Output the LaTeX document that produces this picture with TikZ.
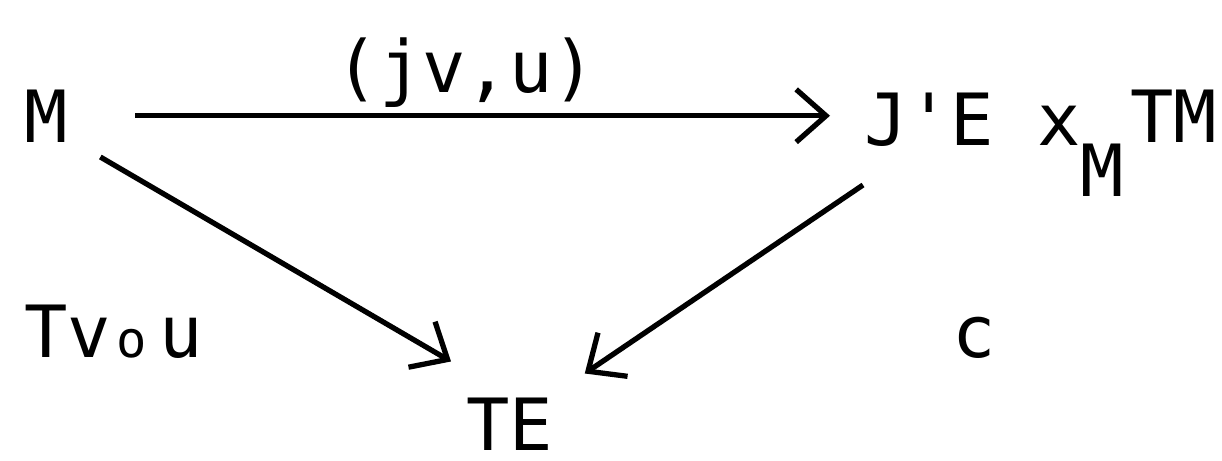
\documentclass[tikz,border=0pt]{standalone}
\usepackage{fontspec}
\newfontfamily\tw{DejaVu Sans Mono}
\usetikzlibrary{arrows.meta,calc}
\tikzset{
  lbl/.style={inner sep=0pt, outer sep=0pt, font=\tw\fontsize{41}{41}\selectfont},
  arr/.style={line width=3pt, -{Straight Barb[length=17pt,width=30pt,line width=3pt]}}
}
\begin{document}
\begin{tikzpicture}[x=0.02cm,y=-0.02cm]
\useasboundingbox[fill=white] (0,0) rectangle (1222,460);
\node[lbl, anchor=base west] (M) at (24,142) {M};
\node[lbl, anchor=base] (lab) at (466,92) {(jv,u)};
\node[lbl, anchor=base west] (JE) at (864,145) {J'E x\raisebox{-1.04cm}{M}\hspace{0.12cm}\raisebox{0.06cm}{TM}};
\node[lbl, anchor=base west] (TE) at (466,450) {TE};
\node[lbl, anchor=base west] (Tv) at (24,357) {Tv\hspace{0.12cm}\scalebox{0.7}{o}\hspace{0.24cm}u};
\node[lbl, anchor=base west] (c) at (952,357) {c};
\draw[arr] ($(M.east)+(68,0)$) -- ($(JE.west |- M.east)+(-34,0)$);
\draw[arr] ($(M.south east)+(33,15)$) -- ($(TE.north west)+(-15,-36)$);
\draw[arr] ($(JE.south west)+(-1,-12)$) -- ($(TE.north east)+(32,-24)$);
\end{tikzpicture}
\end{document}
